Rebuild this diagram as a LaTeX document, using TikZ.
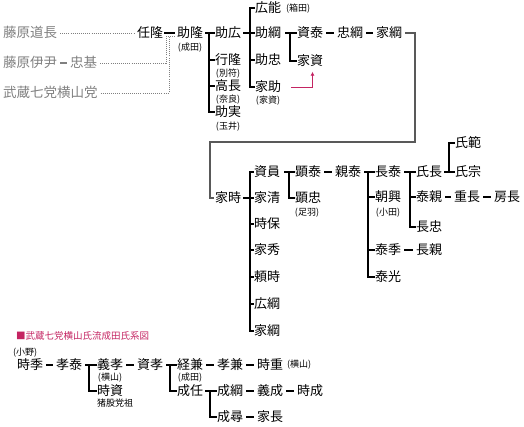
\documentclass[tikz,border=0pt]{standalone}
\usepackage{fontspec}
\setmainfont{Noto Sans CJK JP}
\usetikzlibrary{arrows.meta,calc}
\definecolor{crim}{HTML}{C42462}
\definecolor{gtx}{HTML}{808080}
\begin{document}
\begin{tikzpicture}[x=1pt,y=-1pt,
 nm/.style={font=\fontsize{13}{13}\selectfont, inner sep=0pt, outer sep=0pt, anchor=west, text height=10.4pt, text depth=1pt},
 sm/.style={font=\fontsize{9}{9}\selectfont, inner sep=0pt, outer sep=0pt, anchor=center, text height=7.2pt, text depth=0.7pt},
 gn/.style={nm, font=\fontsize{13.5}{13.5}\selectfont, text=gtx},
 ttl/.style={font=\fontsize{9.5}{9.5}\selectfont, text=crim, inner sep=0pt, anchor=west},
 ln/.style={line width=1.5pt, black, line cap=rect},
 dl/.style={ln, shorten <=3.5pt, shorten >=3.5pt},
 gl/.style={gtx, line width=0.9pt, dash pattern=on 1pt off 1.1pt},
 gs/.style={gtx, line width=1.3pt, shorten <=3pt, shorten >=3pt},
 lg/.style={line width=1.2pt, black!65},
 ra/.style={crim, line width=1pt, -{Latex[length=4pt,width=4pt]}},
]
\useasboundingbox (0,0) rectangle (524,427);

% ---------- block 1 ----------
\node[gn] (fd) at (3,33) {藤原道長};
\node[gn] (fi) at (3,63) {藤原伊尹};
\node[gn] (tm) at (70,63) {忠基};
\node[gn] (mb) at (3,93) {武蔵七党横山党};
\node[nm] (nt) at (137,33) {任隆};
\node[nm] (sk) at (177,33) {助隆};
\node[sm] at (190,47) {(成田)};
\node[nm] (sh) at (215,33) {助広};
\node[nm] (yt) at (215,60) {行隆};
\node[sm] at (228,73) {(別符)};
\node[nm] (tn) at (215,86) {高長};
\node[sm] at (228,99) {(奈良)};
\node[nm] (sz) at (215,112) {助実};
\node[sm] at (228,126) {(玉井)};
\node[nm] (hy) at (255,8) {広能};
\node[sm, anchor=west] at (286,8) {(箱田)};
\node[nm] (st) at (255,33) {助綱};
\node[nm] (sc) at (255,60) {助忠};
\node[nm] (is) at (255,87) {家助};
\node[sm] at (268,100) {(家資)};
\node[nm] (sy) at (297,33) {資泰};
\node[nm] (ks) at (297,61) {家資};
\node[nm] (tt) at (337,33) {忠綱};
\node[nm] (it) at (376,33) {家綱};

% ---------- block 2 ----------
\node[nm] (ie) at (215,198) {家時};
\node[nm] (sa) at (254,172) {資員};
\node[nm] (ik) at (254,198) {家清};
\node[nm] (th) at (254,224) {時保};
\node[nm] (ih) at (254,250) {家秀};
\node[nm] (yr) at (254,277) {頼時};
\node[nm] (ht) at (254,304) {広綱};
\node[nm] (i2) at (254,331) {家綱};
\node[nm] (ay) at (295,172) {顕泰};
\node[nm] (ac) at (295,198) {顕忠};
\node[sm] at (307,212) {(足羽)};
\node[nm] (cy) at (335,172) {親泰};
\node[nm] (cht) at (375,172) {長泰};
\node[nm] (ck) at (375,197) {朝興};
\node[sm] at (388,212) {(小田)};
\node[nm] (yk) at (375,250) {泰季};
\node[nm] (yh) at (375,277) {泰光};
\node[nm] (uc) at (416,172) {氏長};
\node[nm] (yc) at (416,197) {泰親};
\node[nm] (cc) at (416,227) {長忠};
\node[nm] (cs) at (416,250) {長親};
\node[nm] (jc) at (454,197) {重長};
\node[nm] (fc) at (494,197) {房長};
\node[nm] (un) at (455,143) {氏範};
\node[nm] (us) at (455,172) {氏宗};

% ---------- block 3 ----------
\node[ttl] (title) at (16,336) {■武蔵七党横山氏流成田氏系図};
\node[sm, anchor=west] at (13,352) {(小野)};
\node[nm] (tk) at (17,365) {時季};
\node[nm] (ky) at (56,365) {孝泰};
\node[nm] (gk) at (97,365) {義孝};
\node[sm] at (110,377) {(横山)};
\node[nm] (ts) at (97,391) {時資};
\node[sm, anchor=west] at (97,403) {猪股党祖};
\node[nm] (sko) at (137,365) {資孝};
\node[nm] (kk) at (177,365) {経兼};
\node[sm] at (190,377) {(成田)};
\node[nm] (sn) at (177,391) {成任};
\node[nm] (kkn) at (217,365) {孝兼};
\node[nm] (tj) at (257,365) {時重};
\node[sm, anchor=west] at (287,364) {(横山)};
\node[nm] (sto) at (217,391) {成綱};
\node[nm] (gsn) at (257,391) {義成};
\node[nm] (tse) at (297,391) {時成};
\node[nm] (sj) at (217,417) {成尋};
\node[nm] (ich) at (257,417) {家長};

% ---------- branch coordinates ----------
\coordinate (b1) at (209,0);
\coordinate (b2) at (250,0);
\coordinate (b3) at (290,0);
\coordinate (b4) at (250,0);
\coordinate (b5) at (289,0);
\coordinate (b6) at (368,0);
\coordinate (b7) at (410,0);
\coordinate (b8) at (449,0);
\coordinate (b9) at (89,0);
\coordinate (b10) at (170,0);
\coordinate (b11) at (210,0);

% dotted adoption lines
\coordinate (d1) at (166,63);
\coordinate (d2) at (166,36.5);
\coordinate (d3) at (175,36.5);
\coordinate (d4) at (169,93);
\draw[gl] ([xshift=3pt]fd.east) -- ([xshift=-2pt]nt.west);
\draw[gl] ([xshift=3pt]tm.east) -- (d1) -- (d2) -- (d3);
\draw[gl] ([xshift=3pt]mb.east) -- (d4) -- (d4 |- d2);
\draw[gs] (fi) -- (tm);

% simple links
\draw[ln, shorten <=2pt, shorten >=3pt] (nt) -- (sk);
\foreach \a/\b in {sy/tt, tt/it, ay/cy, yc/jc, jc/fc, yk/cs, tk/ky, gk/sko, kk/kkn, kkn/tj, sto/gsn, gsn/tse, sj/ich}
  \draw[dl] (\a) -- (\b);

% branches
\draw[ln, shorten <=3pt] (sk.east) -- (sk.east -| b1);
\draw[ln] (sh.west -| b1) -- (sz.west -| b1);
\foreach \c in {sh,yt,tn,sz} \draw[ln, shorten >=1pt] (\c.west -| b1) -- (\c.west);

\draw[ln, shorten <=3pt] (sh.east) -- (sh.east -| b2);
\draw[ln] (hy.west -| b2) -- (is.west -| b2);
\foreach \c in {hy,st,sc,is} \draw[ln, shorten >=1pt] (\c.west -| b2) -- (\c.west);

\draw[ln, shorten <=5pt] (st.east) -- (st.east -| b3);
\draw[ln] (sy.west -| b3) -- (ks.west -| b3);
\foreach \c in {sy,ks} \draw[ln, shorten >=1pt] (\c.west -| b3) -- (\c.west);

\draw[ln, shorten <=3pt] (ie.east) -- (ie.east -| b4);
\draw[ln] (sa.west -| b4) -- (i2.west -| b4);
\foreach \c in {sa,ik,th,ih,yr,ht,i2} \draw[ln, shorten >=1pt] (\c.west -| b4) -- (\c.west);

\draw[ln, shorten <=5pt] (sa.east) -- (sa.east -| b5);
\draw[ln] (ay.west -| b5) -- (ac.west -| b5);
\foreach \c in {ay,ac} \draw[ln, shorten >=1pt] (\c.west -| b5) -- (\c.west);

\draw[ln, shorten <=4pt] (cy.east) -- (cy.east -| b6);
\draw[ln] (cht.west -| b6) -- (yh.west -| b6);
\foreach \c in {cht,ck,yk,yh} \draw[ln, shorten >=1pt] (\c.west -| b6) -- (\c.west);

\draw[ln, shorten <=4pt] (cht.east) -- (cht.east -| b7);
\draw[ln] (uc.west -| b7) -- (cc.west -| b7);
\foreach \c in {uc,yc,cc} \draw[ln, shorten >=1pt] (\c.west -| b7) -- (\c.west);

\draw[ln, shorten <=3pt] (uc.east) -- (uc.east -| b8);
\draw[ln] (un.west -| b8) -- (us.west -| b8);
\foreach \c in {un,us} \draw[ln, shorten >=1pt] (\c.west -| b8) -- (\c.west);

\draw[ln, shorten <=4pt] (ky.east) -- (ky.east -| b9);
\draw[ln] (gk.west -| b9) -- (ts.west -| b9);
\foreach \c in {gk,ts} \draw[ln, shorten >=1pt] (\c.west -| b9) -- (\c.west);

\draw[ln, shorten <=4pt] (sko.east) -- (sko.east -| b10);
\draw[ln] (kk.west -| b10) -- (sn.west -| b10);
\foreach \c in {kk,sn} \draw[ln, shorten >=1pt] (\c.west -| b10) -- (\c.west);

\draw[ln, shorten <=3pt] (sn.east) -- (sn.east -| b11);
\draw[ln] (sto.west -| b11) -- (sj.west -| b11);
\foreach \c in {sto,sj} \draw[ln, shorten >=1pt] (\c.west -| b11) -- (\c.west);

% long connector from 家綱 to 家時
\coordinate (k1) at (415,142);
\coordinate (k2) at (210,142);
\draw[lg] ([xshift=3pt]it.east) -| (k1) -- (k2) |- ([xshift=-1pt]ie.west);

% red arrow
\draw[ra] ([xshift=10pt,yshift=-1pt]is.east) -| ([xshift=2.5pt,yshift=-5pt]ks.south);
\end{tikzpicture}
\end{document}
